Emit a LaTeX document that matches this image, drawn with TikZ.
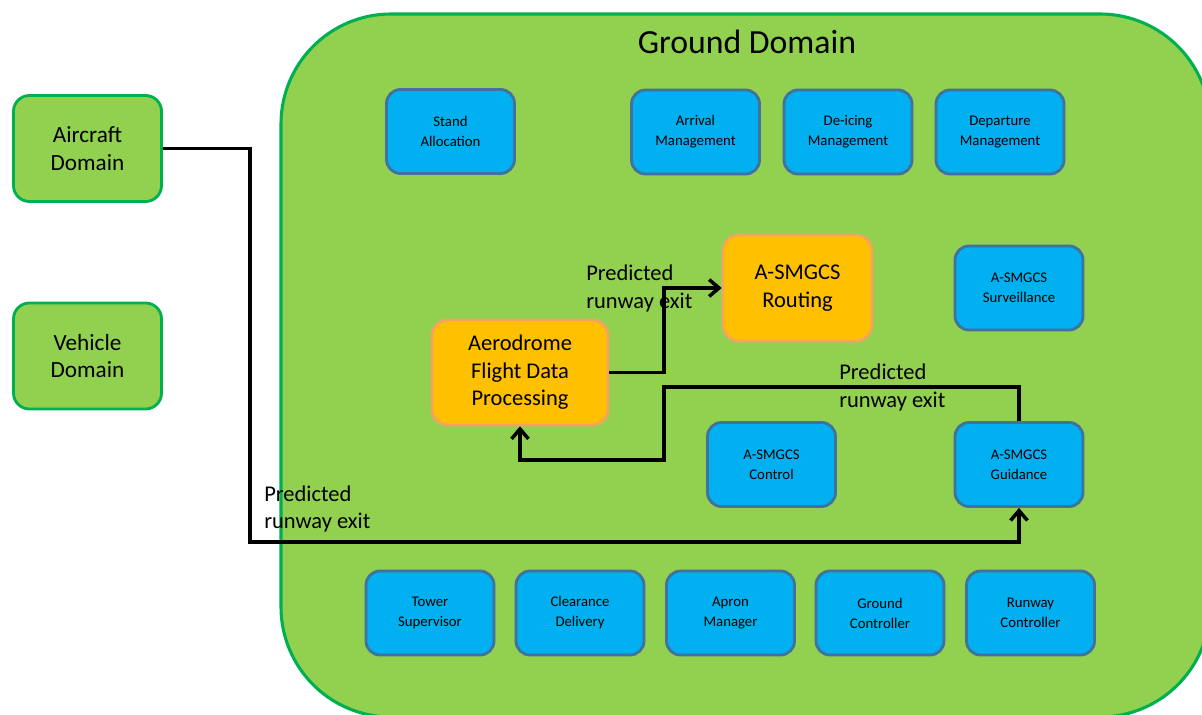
\documentclass[tikz,border=0pt]{standalone}
\usepackage{fontspec}
\setmainfont{Carlito}
\usetikzlibrary{arrows.meta}
\definecolor{leaf}{HTML}{92D050}
\definecolor{leafline}{HTML}{00B050}
\definecolor{sky}{HTML}{00B0F0}
\definecolor{skyline}{HTML}{41719C}
\definecolor{amber}{HTML}{FFC000}
\definecolor{amberline}{HTML}{F4A45E}
\newcommand*\funcbox[3]{%
    % #1: name, #2: position, #3: text
    \node[func] (#1) at (#2) {#3};
}

\begin{document}
\begin{tikzpicture}[x=0.025cm,y=-0.025cm,
    domainbox/.style={draw=leafline,fill=leaf,line width=2pt,rounded corners=0.4cm,minimum width=3.7cm,minimum height=2.65cm,align=center,font=\fontsize{16.5}{19.5}\selectfont},
    func/.style={draw=skyline,fill=sky,line width=2pt,rounded corners=0.35cm,minimum width=3.2cm,minimum height=2.1cm,align=center,font=\fontsize{10.5}{14.2}\selectfont},
    core/.style={draw=amberline,fill=amber,line width=2pt,rounded corners=0.4cm,align=center,font=\fontsize{16}{19.5}\selectfont},
    flow/.style={line width=2.5pt,-{Straight Barb[length=7pt,width=12pt]}},
    note/.style={anchor=west,align=left,inner sep=0pt,font=\fontsize{16}{19.5}\selectfont}]
    \clip (0,0) rectangle (1202,715);
    \useasboundingbox (0,0) rectangle (1202,715);
    \draw[leafline,fill=leaf,line width=2.2pt,rounded corners=2.75cm] (281,14) rectangle (1210,717);
    \node[font=\fontsize{24}{28}\selectfont] (title) at (747,42) {Ground Domain};
    \node[domainbox] (air) at (87.5,148.5) {Aircraft\\Domain};
    \node[domainbox] (veh) at (87.5,356) {Vehicle\\Domain};
    % upper row
    \funcbox{stand}{450.5,131.5}{Stand\\Allocation}
    \funcbox{arr}{695.5,132}{Arrival\\Management}
    \funcbox{deice}{848,132}{De-icing\\Management}
    \funcbox{dep}{1000,132}{Departure\\Management}
    % middle
    \funcbox{surv}{1019,288}{A-SMGCS\\Surveillance}
    \funcbox{ctrl}{771.5,464.5}{A-SMGCS\\Control}
    \funcbox{guid}{1019,464.5}{A-SMGCS\\Guidance}
    \node[core,minimum width=4.4cm,minimum height=2.62cm] (afdp) at (520,372.5) {Aerodrome\\Flight Data\\Processing};
    \node[core,minimum width=3.72cm,minimum height=2.65cm] (rout) at (797.5,288) {A-SMGCS\\Routing};
    % lower row
    \funcbox{tower}{430,613}{Tower\\Supervisor}
    \funcbox{clear}{580,613}{Clearance\\Delivery}
    \funcbox{apron}{730.5,613}{Apron\\Manager}
    \funcbox{gnd}{880,613}{Ground\\Controller}
    \funcbox{rwy}{1030.5,613}{Runway\\Controller}
    % connectors
    \coordinate (bendA) at (250,542);
    \coordinate (bendB) at (664,330);
    \coordinate (bendC) at (664,387);
    \coordinate (bendD) at (664,460);
    \draw[flow] (air.east) -| (bendA) -| (guid.south);
    \draw[flow] (afdp.east) -| (bendB) |- (rout.west);
    \draw[flow] (guid.north) |- (bendC) -- (bendD) -| (afdp.south);
    \node[note] (lblA) at (264,509) {Predicted\\runway exit};
    \node[note] (lblB) at (586,288.5) {Predicted\\runway exit};
    \node[note] (lblC) at (839,387.5) {Predicted\\runway exit};
\end{tikzpicture}
\end{document}
